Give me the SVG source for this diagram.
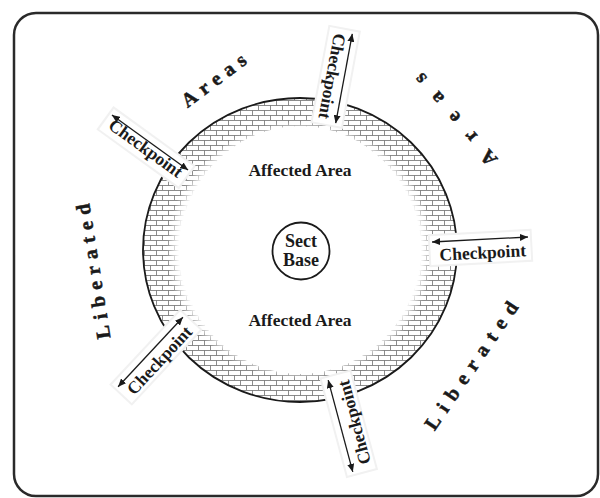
<svg xmlns="http://www.w3.org/2000/svg" width="600" height="498" viewBox="0 0 600 498">
<style>
.t{font-family:"Liberation Serif","Times New Roman",serif;font-weight:bold;fill:#1a1a1a;}
.cp{font-size:17.5px;text-anchor:middle;}
.big{font-size:20px;text-anchor:middle;stroke:#1a1a1a;stroke-width:0.5;}
.arw{stroke:#1a1a1a;stroke-width:1.3;fill:none;marker-start:url(#ah);marker-end:url(#ah);}
.box{fill:#ffffff;stroke:#f1f1f1;stroke-width:2;}
</style>
<defs>
<marker id="ah" markerUnits="userSpaceOnUse" markerWidth="9" markerHeight="7" refX="8" refY="3.5" orient="auto-start-reverse">
<path d="M0,0 L8,3.5 L0,7 z" fill="#1a1a1a"/>
</marker>
<pattern id="brick" patternUnits="userSpaceOnUse" width="12" height="10">
<path d="M0,0.5 H12 M0,5.5 H12 M0.5,0.5 V5.5 M6.5,5.5 V10" stroke="#6e6e6e" stroke-width="0.8" fill="none"/>
</pattern>
<radialGradient id="fade" cx="0.5" cy="0.5" r="0.5">
<stop offset="0.77" stop-color="#000"/>
<stop offset="0.85" stop-color="#fff"/>
</radialGradient>
<mask id="bandmask" maskUnits="userSpaceOnUse" x="0" y="0" width="600" height="498">
<ellipse cx="300" cy="250" rx="157" ry="152" fill="url(#fade)"/>
</mask>
</defs>

<rect x="14" y="13" width="584" height="483" rx="22" fill="#ffffff" stroke="#2a2a2a" stroke-width="2.5"/>

<g id="affected-ring">
<path d="M143,250 a157,152 0 1,0 314,0 a157,152 0 1,0 -314,0 Z M180,250 a120,124 0 1,1 240,0 a120,124 0 1,1 -240,0 Z" fill="url(#brick)" fill-rule="evenodd" mask="url(#bandmask)"/>
<ellipse cx="300" cy="250" rx="157" ry="152" fill="none" stroke="#1a1a1a" stroke-width="1.8"/>
</g>

<g id="sect-base">
<circle cx="301" cy="251" r="28.5" fill="#fff" stroke="#1a1a1a" stroke-width="1.8"/>
<text class="t" x="301" y="247" font-size="18" text-anchor="middle">Sect</text>
<text class="t" x="301" y="266" font-size="18" text-anchor="middle">Base</text>
</g>

<g id="affected-labels">
<text class="t" x="300" y="176" font-size="17.5" text-anchor="middle">Affected Area</text>
<text class="t" x="300" y="326" font-size="17.5" text-anchor="middle">Affected Area</text>
</g>

<g id="region-labels">
<g transform="translate(213.5,80) rotate(-37)"><text class="t big" x="3.2" y="7" letter-spacing="6.5">Areas</text></g>
<g transform="translate(455,120) rotate(-131)"><text class="t big" x="8.2" y="7" letter-spacing="16.5">Areas</text></g>
<g transform="translate(93,271.5) rotate(-99)"><text class="t big" x="3.2" y="7" letter-spacing="6.5">Liberated</text></g>
<g transform="translate(471,365.5) rotate(-55.8)"><text class="t big" x="4.1" y="7" letter-spacing="8.2">Liberated</text></g>
</g>

<g id="connectors">
<g id="checkpoint-ul" transform="translate(150,142.5) rotate(35.9)">
<rect class="box" x="-50" y="-7" width="100" height="27"/>
<line class="arw" x1="-47" y1="0" x2="47" y2="0"/>
<text class="t cp" x="0" y="13">Checkpoint</text>
</g>
<g id="checkpoint-top" transform="translate(344,78.5) rotate(100.5)">
<rect class="box" x="-49" y="-7" width="98" height="31"/>
<line class="arw" x1="-45.5" y1="0" x2="45.5" y2="0"/>
<text class="t cp" x="0" y="18">Checkpoint</text>
</g>
<g id="checkpoint-right" transform="translate(480,239.5) rotate(-3)">
<rect class="box" x="-51" y="-7" width="102" height="31"/>
<line class="arw" x1="-48" y1="0" x2="48" y2="0"/>
<text class="t cp" x="2" y="19">Checkpoint</text>
</g>
<g id="checkpoint-bottom" transform="translate(340.5,426) rotate(-105)">
<rect class="box" x="-51" y="-7" width="102" height="31"/>
<line class="arw" x1="-47.5" y1="0" x2="47.5" y2="0"/>
<text class="t cp" x="0" y="20">Checkpoint</text>
</g>
<g id="checkpoint-ll" transform="translate(150.5,352) rotate(-47)">
<rect class="box" x="-51" y="-7" width="102" height="29"/>
<line class="arw" x1="-47.5" y1="0" x2="47.5" y2="0"/>
<text class="t cp" x="0" y="18">Checkpoint</text>
</g>
</g>
</svg>
